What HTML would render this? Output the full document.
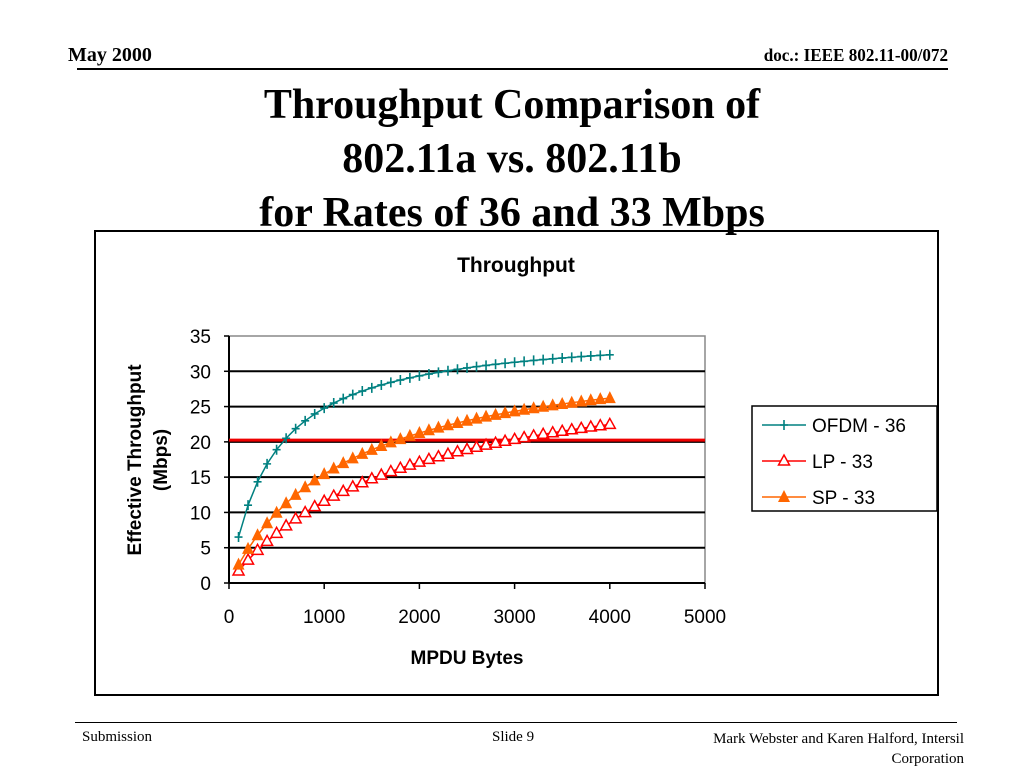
<!DOCTYPE html>
<html><head><meta charset="utf-8"><style>
body{margin:0;width:1024px;height:768px;background:#fff;overflow:hidden;position:relative;font-family:"Liberation Serif",serif}
.a{position:absolute;white-space:nowrap}
</style></head><body>
<div class="a" style="left:68px;top:44px;font-size:20px;font-weight:bold">May 2000</div>
<div class="a" style="right:76px;top:45px;font-size:18px;font-weight:bold;transform:scaleX(0.95);transform-origin:right">doc.: IEEE 802.11-00/072</div>
<div class="a" style="left:77px;top:68px;width:871px;height:2px;background:#000"></div>
<div class="a" style="left:0;width:1024px;top:78px;text-align:center;font-size:42px;font-weight:bold;line-height:54px">Throughput Comparison of<br>802.11a vs. 802.11b<br>for Rates of 36 and 33 Mbps</div>
<div class="a" style="left:94px;top:230px;width:841px;height:462px;border:2px solid #000"></div>
<svg class="a" style="left:0;top:0" width="1024" height="768" id="svg" font-family="Liberation Sans, sans-serif"></svg>
<div class="a" style="left:75px;top:722px;width:882px;height:1px;background:#000"></div>
<div class="a" style="left:82px;top:729px;font-size:15px">Submission</div>
<div class="a" style="left:492px;top:729px;font-size:15px">Slide 9</div>
<div class="a" style="right:60px;top:729px;font-size:15px;text-align:right;line-height:20px">Mark Webster and Karen Halford, Intersil<br>Corporation</div>
<script>
const bytes=[100,200,300,400,500,600,700,800,900,1000,1100,1200,1300,1400,1500,1600,1700,1800,1900,2000,2100,2200,2300,2400,2500,2600,2700,2800,2900,3000,3100,3200,3300,3400,3500,3600,3700,3800,3900,4000];
const ofdm36=[6.51,11.03,14.34,16.88,18.89,20.51,21.86,22.98,23.95,24.78,25.5,26.13,26.7,27.2,27.65,28.06,28.43,28.76,29.07,29.35,29.61,29.85,30.08,30.28,30.48,30.66,30.83,30.99,31.14,31.28,31.41,31.54,31.66,31.77,31.88,31.98,32.08,32.17,32.26,32.34];
const lp33=[1.7,3.24,4.63,5.89,7.04,8.1,9.08,9.98,10.82,11.59,12.31,12.99,13.62,14.21,14.77,15.29,15.79,16.26,16.7,17.12,17.51,17.89,18.25,18.59,18.92,19.23,19.53,19.81,20.09,20.35,20.6,20.84,21.07,21.29,21.5,21.71,21.91,22.1,22.29,22.47];
const sp33=[2.6,4.83,6.77,8.46,9.96,11.3,12.49,13.56,14.54,15.42,16.23,16.98,17.66,18.29,18.87,19.42,19.92,20.39,20.84,21.25,21.64,22.01,22.36,22.68,22.99,23.29,23.57,23.83,24.08,24.32,24.55,24.77,24.98,25.17,25.36,25.55,25.72,25.89,26.05,26.2];
const yTicks=[0,5,10,15,20,25,30,35];
const xTicks=[0,1000,2000,3000,4000,5000];
const refLine=[20.25];
const svg=document.getElementById('svg');const NS='http://www.w3.org/2000/svg';
const X0=229,X1=705,Y0=583,Y1=336;
const sx=v=>X0+(v-0)/5000*(X1-X0), sy=v=>Y0-v/35*(Y0-Y1);
function mk(t,a,p){const e=document.createElementNS(NS,t);for(const k in a)e.setAttribute(k,a[k]);(p||svg).appendChild(e);return e;}
let e;
e=mk('rect',{x:X0,y:Y1,width:X1-X0,height:Y0-Y1,fill:'#fff',stroke:'#888','stroke-width':1.5});

yTicks.forEach(v=>{
 if(v>0&&v<35){e=mk('line',{x1:X0,x2:X1,y1:sy(v),y2:sy(v),stroke:'#000','stroke-width':2});
 }
 mk('line',{x1:X0-5,x2:X0,y1:sy(v),y2:sy(v),stroke:'#000','stroke-width':1.5});
 e=mk('text',{x:X0-18,y:sy(v)+7,'text-anchor':'end','font-size':19});e.textContent=v;
 
});
xTicks.forEach(v=>{
 mk('line',{x1:sx(v),x2:sx(v),y1:Y0,y2:Y0+6,stroke:'#000','stroke-width':1.5});
 e=mk('text',{x:sx(v),y:Y0+40,'text-anchor':'middle','font-size':19});e.textContent=v;
 
});
mk('line',{x1:X0,x2:X0,y1:Y1,y2:Y0,stroke:'#000','stroke-width':2});
mk('line',{x1:X0,x2:X1,y1:Y0,y2:Y0,stroke:'#000','stroke-width':2});
e=mk('line',{x1:X0,x2:X1,y1:sy(refLine[0]),y2:sy(refLine[0]),stroke:'#e00','stroke-width':3});

function marker(type,x,y,c,g){
 if(type==='plus'){mk('path',{d:`M${x-4} ${y}H${x+4}M${x} ${y-5}V${y+5}`,stroke:c,'stroke-width':1.6,fill:'none'},g);}
 else if(type==='tri'){mk('path',{d:`M${x} ${y-6}L${x+5.5} ${y+4}L${x-5.5} ${y+4}Z`,stroke:c,'stroke-width':1.5,fill:'#fff'},g);}
 else {mk('path',{d:`M${x} ${y-7}L${x+6} ${y+5}L${x-6} ${y+5}Z`,fill:c},g);}
}
function series(vals,c,type,name){
 const g=mk('g',{});
 mk('polyline',{points:bytes.map((b,i)=>sx(b)+','+sy(vals[i])).join(' '),fill:'none',stroke:c,'stroke-width':1.5},g);
 bytes.forEach((b,i)=>marker(type,sx(b),sy(vals[i]),c,g));
}
series(lp33,'#f00','tri','series-lp-33');
series(sp33,'#f60','ftri','series-sp-33');
series(ofdm36,'#008080','plus','series-ofdm-36');
e=mk('text',{x:516,y:272,'text-anchor':'middle','font-size':21,'font-weight':'bold'});e.textContent='Throughput';

e=mk('text',{x:467,y:664,'text-anchor':'middle','font-size':19,'font-weight':'bold'});e.textContent='MPDU Bytes';

const yt=mk('text',{transform:'translate(145,460) rotate(-90)','text-anchor':'middle','font-size':19,'font-weight':'bold'});

let t1=mk('tspan',{x:0,y:-4},yt);t1.textContent='Effective Throughput';
let t2=mk('tspan',{x:0,y:22},yt);t2.textContent='(Mbps)';
const lg=mk('g',{});
mk('rect',{x:752,y:406,width:185,height:105,fill:'#fff',stroke:'#000','stroke-width':1.5},lg);
[['OFDM - 36','#008080','plus'],['LP - 33','#f00','tri'],['SP - 33','#f60','ftri']].forEach((d,i)=>{
 const y=425+i*36;const g=mk('g',{},lg);
 mk('line',{x1:762,x2:806,y1:y,y2:y,stroke:d[1],'stroke-width':1.5},g);marker(d[2],784,y,d[1],g);
 const t=mk('text',{x:812,y:y+7,'font-size':19},g);t.textContent=d[0];
});
</script>
</body></html>
